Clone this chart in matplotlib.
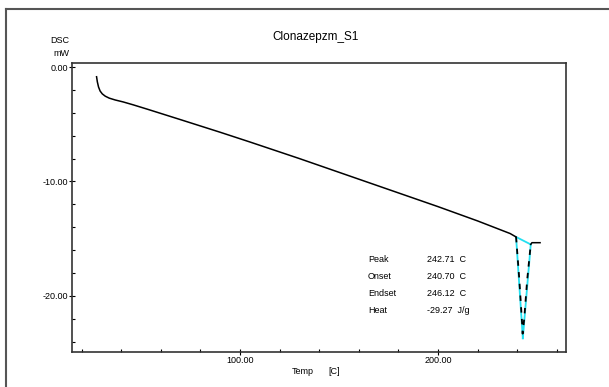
import numpy as np
import matplotlib
matplotlib.use("Agg")
import matplotlib.pyplot as plt
from matplotlib.lines import Line2D
from matplotlib.ticker import MultipleLocator, FixedLocator, FixedFormatter

# DSC 曲线数据 (温度 C, 热流 mW)
temp = [27.6, 28.0, 28.6, 29.4, 30.5, 32.0, 34.0, 37.0, 41.0, 46.0, 53.5,
        70, 90, 105, 130, 155, 180, 200, 220, 236.4, 239.4]
dsc = [-0.85, -1.3, -1.75, -2.1, -2.35, -2.55, -2.72, -2.88, -3.05, -3.3, -3.7,
       -4.6, -5.7, -6.55, -8.0, -9.5, -11.0, -12.2, -13.45, -14.55, -14.85]

# 熔融峰
peak_temp = [239.4, 241.0, 242.3, 242.71, 243.5, 245.0, 246.8]
peak_dsc = [-14.85, -18.5, -22.0, -23.3, -22.0, -18.6, -15.5]
tail_temp = [246.8, 247.4, 251.5]
tail_dsc = [-15.5, -15.35, -15.35]

# 切线/基线 (青色)
base_temp = [239.4, 246.8]
base_dsc = [-14.85, -15.5]
apex_temp = 242.8
apex_dsc = -23.7

xticks = [100, 200]
xtick_labels = ['100.00', '200.00']
yticks = [0, -10, -20]
ytick_labels = ['0.00', '-10.00', '-20.00']

ann_names = ['Peak', 'Onset', 'Endset', 'Heat']
ann_values = ['242.71', '240.70', '246.12', '-29.27']
ann_units = ['C', 'C', 'C', 'J/g']

W, H = 609, 387
plt.rcParams['font.family'] = ['Liberation Sans', 'DejaVu Sans']

fig = plt.figure(figsize=(W / 100, H / 100), dpi=100)
fig.patch.set_facecolor('white')

def fx(px):
    return px / W

def fy(py):
    return 1 - py / H

ax = fig.add_axes([fx(72), fy(352), fx(566) - fx(72), fy(63) - fy(352)])

# 青色三角形
cyan = '#22dff0'
ax.plot(base_temp, base_dsc, color=cyan, lw=1.3)
ax.plot([base_temp[0], apex_temp], [base_dsc[0], apex_dsc], color=cyan, lw=1.3)
ax.plot([base_temp[1], apex_temp], [base_dsc[1], apex_dsc], color=cyan, lw=1.3)

ax.plot(temp, dsc, color='black', lw=1.1)
ax.plot(peak_temp, peak_dsc, color='black', lw=1.3, dashes=(3, 3.5))
ax.plot(tail_temp, tail_dsc, color='black', lw=1.1)

ax.set_xlim(15.2, 264.6)
ax.set_ylim(-24.9, 0.35)

ax.xaxis.set_major_locator(FixedLocator(xticks))
ax.xaxis.set_major_formatter(FixedFormatter(xtick_labels))
ax.xaxis.set_minor_locator(MultipleLocator(20))
ax.yaxis.set_major_locator(FixedLocator(yticks))
ax.yaxis.set_major_formatter(FixedFormatter(ytick_labels))
ax.yaxis.set_minor_locator(MultipleLocator(2))

ax.tick_params(which='major', direction='inout', length=4, width=0.8, labelsize=6.5, pad=1)
ax.tick_params(which='minor', direction='in', length=2.5, width=0.8)
for s in ax.spines.values():
    s.set_color('#333333')
    s.set_linewidth(1.2)

# 外框
fig.add_artist(Line2D([fx(6), 1], [fy(9), fy(9)], color='#555555', lw=1.5))
fig.add_artist(Line2D([fx(6), fx(6)], [fy(9), 0], color='#555555', lw=1.5))

fig.text(fx(316), fy(37), 'Clonazepzm_S1', ha='center', va='center', fontsize=8.5)
fig.text(fx(60), fy(40.5), 'DSC', ha='center', va='center', fontsize=6.5)
fig.text(fx(61), fy(53), 'mW', ha='center', va='center', fontsize=6.5)
fig.text(fx(292), fy(372), 'Temp', ha='left', va='center', fontsize=6.5)
fig.text(fx(328), fy(372), '[C]', ha='left', va='center', fontsize=6.5)

rows_y = [259, 276.5, 293, 310.5]
for name, val, unit, py in zip(ann_names, ann_values, ann_units, rows_y):
    fig.text(fx(368), fy(py), name, ha='left', va='center', fontsize=6.5)
    fig.text(fx(427), fy(py), val + '  ' + unit, ha='left', va='center', fontsize=6.5)

fig.savefig('out.png', dpi=100)
